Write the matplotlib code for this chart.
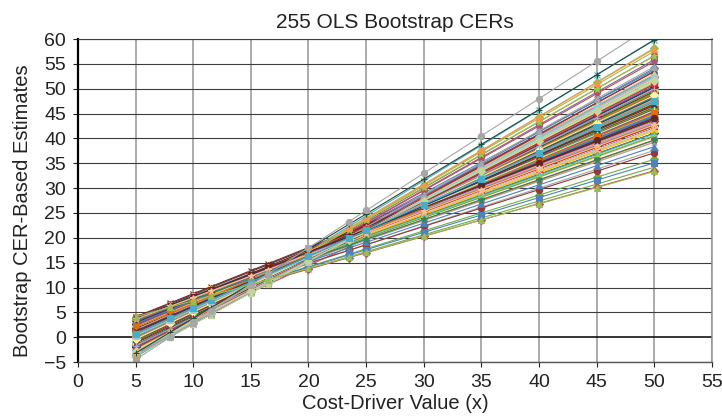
import numpy as np
import matplotlib
matplotlib.use('Agg')
import matplotlib.pyplot as plt

plt.rcParams['font.family'] = ['Liberation Sans', 'DejaVu Sans']

# cost-driver values where each bootstrap CER is evaluated
x_values = [5, 8, 10, 11.5, 15, 16.5, 20, 23.5, 25, 30, 35, 40, 45, 50]

# slope of each bootstrap CER (255 replicates)
cer_slopes = [
    1.02, 0.94, 1.11, 0.87, 1.05, 1.18, 0.98, 0.91, 1.24, 1.07, 0.83, 1.00, 1.13, 0.96, 1.09,
    0.89, 1.21, 1.03, 0.78, 1.15, 0.99, 1.06, 0.92, 1.31, 1.01, 0.86, 1.12, 0.95, 1.08, 1.19,
    0.97, 0.72, 1.04, 1.26, 0.90, 1.10, 0.84, 1.02, 1.16, 0.93, 1.07, 0.99, 1.22, 0.88, 1.05,
    1.14, 0.95, 0.81, 1.09, 1.00, 1.35, 0.92, 1.03, 0.97, 1.17, 0.86, 1.11, 1.04, 0.94, 1.20,
    0.68, 1.06, 0.98, 1.13, 0.90, 1.01, 1.28, 0.96, 1.08, 0.83, 1.15, 0.99, 1.05, 0.91, 1.23,
    1.02, 0.87, 1.10, 0.95, 1.18, 0.76, 1.04, 1.12, 0.93, 1.07, 1.00, 1.33, 0.89, 1.06, 0.97,
    1.16, 0.92, 1.03, 0.85, 1.09, 1.25, 0.98, 1.01, 0.94, 1.14, 0.80, 1.05, 1.19, 0.96, 1.08,
    0.90, 1.11, 1.00, 1.38, 0.88, 1.04, 0.97, 1.21, 0.93, 1.07, 0.66, 1.13, 1.02, 0.95, 1.10,
    1.27, 0.99, 0.86, 1.06, 1.15, 0.92, 1.03, 0.82, 1.17, 1.01, 0.96, 1.09, 0.89, 1.12, 1.04,
    0.94, 1.20, 1.00, 0.79, 1.08, 0.97, 1.14, 0.91, 1.05, 1.30, 0.87, 1.02, 1.10, 0.95, 0.74,
    1.07, 1.18, 0.93, 1.03, 0.85, 1.12, 0.99, 1.24, 0.90, 1.06, 1.01, 0.96, 1.16, 0.88, 1.09,
    1.42, 0.97, 1.04, 0.92, 1.11, 0.84, 1.00, 1.19, 0.95, 1.07, 0.89, 1.13, 1.02, 0.98, 1.22,
    0.93, 1.05, 0.70, 1.10, 0.96, 1.15, 1.01, 0.87, 1.08, 0.99, 1.26, 0.91, 1.04, 1.13, 0.83,
    1.06, 0.94, 1.17, 1.00, 0.90, 1.09, 1.32, 0.97, 1.03, 0.86, 1.12, 0.95, 1.07, 1.20, 0.92,
    1.01, 0.77, 1.14, 0.98, 1.05, 0.88, 1.10, 1.23, 0.94, 1.02, 1.16, 0.85, 1.08, 0.96, 1.04,
    1.29, 0.91, 1.06, 0.99, 1.11, 0.82, 1.03, 0.95, 1.18, 1.00, 0.89, 1.13, 0.97, 1.07, 1.36,
    0.93, 1.09, 1.02, 0.80, 1.15, 0.96, 1.05, 0.90, 1.21, 1.01, 0.87, 1.40, 1.04, 0.65, 1.50,
]

# estimate of each bootstrap CER at x = 15
cer_at_15 = [
    11.1, 11.7, 10.1, 12.3, 10.7, 9.7, 11.3, 12.8, 10.4, 11.2, 12.0, 10.8, 9.3, 11.6, 10.9,
    12.6, 10.3, 11.5, 11.9, 9.6, 11.1, 10.5, 12.4, 10.0, 11.7, 12.6, 10.7, 11.2, 9.0, 10.8,
    11.6, 10.6, 10.9, 9.4, 12.1, 10.4, 12.4, 11.3, 9.9, 13.4, 10.7, 11.9, 9.2, 11.1, 11.5,
    10.1, 12.3, 11.9, 10.8, 11.2, 10.3, 11.7, 10.5, 12.6, 10.0, 12.0, 9.7, 11.5, 10.9, 10.3,
    10.4, 10.7, 11.6, 9.6, 12.8, 11.1, 9.3, 11.3, 10.4, 12.0, 9.9, 12.1, 10.9, 11.7, 9.4,
    11.2, 12.5, 10.5, 12.0, 9.2, 11.0, 10.8, 10.0, 12.4, 10.3, 11.9, 10.1, 12.7, 11.1, 11.6,
    9.6, 11.5, 10.7, 12.2, 11.1, 9.0, 12.1, 10.4, 12.6, 10.1, 11.6, 11.2, 9.4, 11.9, 10.7,
    12.8, 10.0, 11.7, 9.9, 12.3, 10.8, 11.3, 9.7, 13.2, 10.5, 10.4, 9.9, 12.0, 12.4, 10.3,
    9.0, 11.2, 12.4, 10.9, 9.7, 11.9, 10.4, 11.8, 10.1, 11.5, 12.1, 10.7, 12.6, 9.9, 11.7,
    12.3, 9.4, 11.1, 11.6, 10.5, 11.6, 9.6, 12.4, 10.8, 10.0, 12.4, 11.3, 10.3, 12.0, 11.2,
    10.4, 9.3, 12.1, 11.1, 12.2, 10.0, 11.5, 9.2, 12.7, 10.7, 11.7, 12.3, 9.7, 12.6, 10.9,
    10.2, 11.6, 10.5, 12.4, 10.1, 12.1, 11.2, 9.6, 12.0, 10.8, 12.6, 10.3, 11.9, 11.1, 9.3,
    12.1, 10.9, 10.6, 10.0, 12.8, 9.7, 11.6, 12.4, 10.7, 11.3, 8.9, 12.4, 10.4, 9.9, 11.9,
    10.8, 11.9, 9.6, 11.5, 12.6, 10.3, 10.4, 12.0, 11.1, 12.4, 10.0, 12.1, 10.7, 9.4, 12.4,
    11.3, 11.4, 10.1, 11.7, 10.9, 12.5, 10.5, 9.2, 12.3, 11.2, 9.7, 12.2, 10.4, 11.6, 10.8,
    9.3, 12.4, 10.7, 11.9, 9.9, 11.9, 11.5, 12.1, 9.6, 11.1, 12.7, 10.3, 11.7, 10.9, 10.4,
    12.0, 10.5, 11.2, 11.7, 9.7, 11.6, 10.8, 12.6, 9.3, 11.3, 12.3, 10.8, 11.1, 10.6, 10.5,
]

colors = ['#7F3F98', '#E8242B', '#6FAE46', '#1F3864', '#953735', '#D7E4BD',
          '#31859C', '#F79646', '#4F81BD', '#FFF2A1', '#8B1A1A', '#3A7F5A',
          '#B3A2C7', '#E46C0A', '#93CDDD', '#632523', '#C3D69B', '#254061',
          '#FAC090', '#1B4F3A', '#4BACC6', '#9BBB59', '#A6A6A6', '#8064A2',
          '#DA9694', '#FFC000', '#404040', '#92D050', '#C0504D']
markers = ['s', '^', 'o', 'D', 'x', '*', '+']

fig, ax = plt.subplots(figsize=(7.22, 4.2), dpi=100)
fig.subplots_adjust(left=0.108, right=0.986, top=0.907, bottom=0.138)

xs = np.array(x_values)
for i, (b, c) in enumerate(zip(cer_slopes, cer_at_15)):
    ys = c + b * (xs - 15)
    ax.plot(xs, ys, color=colors[i % len(colors)], lw=0.8,
            marker=markers[i % len(markers)], markersize=4.5,
            markeredgewidth=0.8)

ax.set_xlim(0, 55)
ax.set_ylim(-5, 60)
ax.set_xticks(np.arange(0, 56, 5))
ax.set_yticks(np.arange(-5, 61, 5))
ax.set_yticklabels(['\u22125'] + [str(v) for v in range(0, 61, 5)])

for xv in range(5, 56, 5):
    ax.axvline(xv, color='#959595', lw=1.1, zorder=0)
for yv in range(-5, 61, 5):
    ax.axhline(yv, color='#3c3c3c' if yv != 0 else '#000000',
               lw=0.8 if yv != 0 else 1.1, zorder=0)

ax.spines['left'].set_color('black')
ax.spines['left'].set_linewidth(1.6)
ax.spines['bottom'].set_color('#555555')
ax.spines['bottom'].set_linewidth(1.0)
ax.spines['top'].set_color('#3c3c3c')
ax.spines['top'].set_linewidth(0.8)
ax.spines['right'].set_color('#959595')
ax.spines['right'].set_linewidth(1.1)

ax.tick_params(axis='both', direction='out', length=3.5, width=0.8,
               labelsize=14, colors='#222222', pad=5)

ax.set_xlabel('Cost-Driver Value (x)', fontsize=14.5, color='#222222', labelpad=2)
ax.set_ylabel('Bootstrap CER-Based Estimates', fontsize=14.5, color='#222222')
ax.yaxis.set_label_coords(-0.073, 0.47)
ax.set_title('255 OLS Bootstrap CERs', fontsize=15, color='#222222', pad=8)

fig.savefig('out.png', dpi=100)
